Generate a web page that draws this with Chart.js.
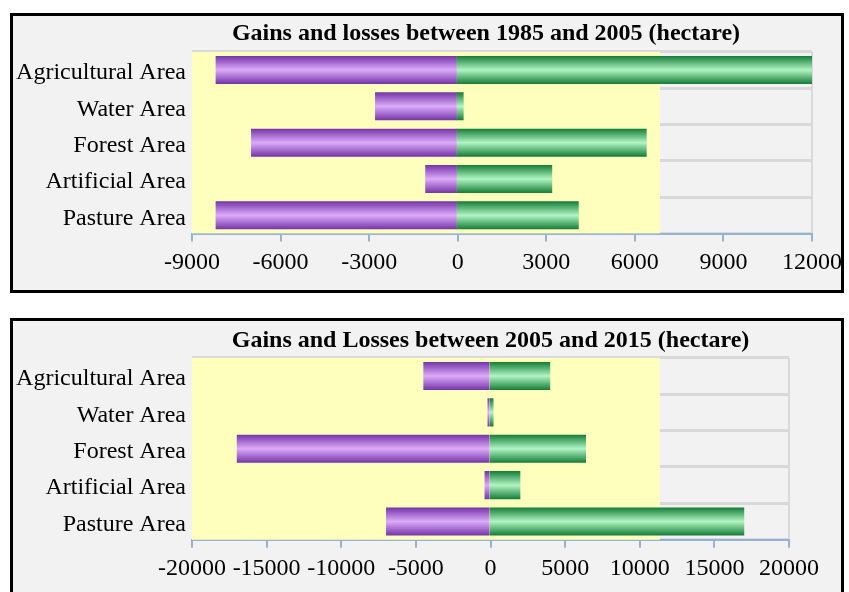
<!DOCTYPE html>
<html>
<head>
<meta charset="utf-8">
<title>Gains and losses</title>
<script src="https://cdn.jsdelivr.net/npm/chart.js@4.4.0/dist/chart.umd.min.js"></script>
<style>
  body { margin: 0; background: #ffffff; }
  .caja {
    position: absolute;
    left: 10px;
    width: 834px;
    height: 280px;
    border: 3px solid #000;
    box-sizing: border-box;
    background: #f2f2f2;
  }
  canvas { display: block; }
</style>
</head>
<body>
<div class="caja" style="top:13px"><canvas id="grafico1" width="828" height="274"></canvas></div>
<div class="caja" style="top:318px"><canvas id="grafico2" width="828" height="274"></canvas></div>

<script>
// Categorías (de arriba hacia abajo)
const categorias = ['Agricultural Area', 'Water Area', 'Forest Area', 'Artificial Area', 'Pasture Area'];

// Periodo 1985 - 2005
const titulo1 = 'Gains and losses between 1985 and 2005 (hectare)';
const perdidas1 = [-8200, -2800, -7000, -1100, -8200];
const ganancias1 = [12000, 200, 6400, 3200, 4100];
const ticksX1 = [-9000, -6000, -3000, 0, 3000, 6000, 9000, 12000];
const finAmarillo1 = 6840;

// Periodo 2005 - 2015
const titulo2 = 'Gains and Losses between 2005 and 2015 (hectare)';
const perdidas2 = [-4500, -200, -17000, -400, -7000];
const ganancias2 = [4000, 200, 6400, 2000, 17000];
const ticksX2 = [-20000, -15000, -10000, -5000, 0, 5000, 10000, 15000, 20000];
const finAmarillo2 = 11320;

const FUENTE = "'Liberation Serif', 'Times New Roman', serif";
const AZUL = '#95b3d7';
const GRIS = '#d9d9d9';
const GROSOR = 0.77;

// Degradado vertical (oscuro - claro - oscuro) para cada barra
function degradado(oscuro, claro) {
    return function(ctx) {
        const chart = ctx.chart;
        const escalaY = chart.scales.y;
        if (!chart.chartArea || !escalaY || ctx.dataIndex === undefined) return oscuro;
        const y = escalaY.getPixelForValue(ctx.dataIndex);
        const medio = escalaY.height / categorias.length * GROSOR / 2;
        const g = chart.ctx.createLinearGradient(0, y - medio, 0, y + medio);
        g.addColorStop(0, oscuro);
        g.addColorStop(0.5, claro);
        g.addColorStop(1, oscuro);
        return g;
    };
}

// Plugin para desplazar el título horizontalmente
const moverTitulo = {
    id: 'moverTitulo',
    afterLayout(chart, args, opts) {
        if (chart.titleBlock && opts.dx) {
            chart.titleBlock.left += opts.dx;
            chart.titleBlock.right += opts.dx;
        }
    }
};

function crearGrafico(id, titulo, perdidas, ganancias, ticksX, finAmarillo, ajustes) {
    const min = ticksX[0];
    const max = ticksX[ticksX.length - 1];
    const ctx = document.getElementById(id).getContext('2d');

    return new Chart(ctx, {
        type: 'bar',
        data: {
            labels: categorias,
            datasets: [
                {
                    label: 'Losses',
                    data: perdidas,
                    backgroundColor: degradado('#7434a8', '#dcabf9'),
                    grouped: false,
                    barPercentage: GROSOR,
                    categoryPercentage: 1,
                    order: 1
                },
                {
                    label: 'Gains',
                    data: ganancias,
                    backgroundColor: degradado('#157c37', '#b0f5c3'),
                    grouped: false,
                    barPercentage: GROSOR,
                    categoryPercentage: 1,
                    // la barra verde empieza un poco bajo la morada para evitar la costura en 0
                    base: -50,
                    order: 2
                },
                {
                    label: 'fondo',
                    data: categorias.map(() => [min, finAmarillo]),
                    backgroundColor: '#ffffbd',
                    grouped: false,
                    barPercentage: 1,
                    categoryPercentage: 1,
                    order: 5
                }
            ]
        },
        options: {
            indexAxis: 'y',
            responsive: false,
            devicePixelRatio: 1,
            animation: false,
            layout: {
                padding: { left: 0, right: ajustes.derecha, top: 0, bottom: ajustes.abajo }
            },
            plugins: {
                legend: { display: false },
                tooltip: { enabled: false },
                title: {
                    display: true,
                    text: titulo,
                    fullSize: false,
                    color: '#000',
                    font: { family: FUENTE, size: 24, weight: 'bold' },
                    padding: ajustes.tituloPad
                },
                moverTitulo: { dx: ajustes.dx }
            },
            scales: {
                x: {
                    min: min,
                    max: max,
                    z: 2,
                    afterBuildTicks: axis => {
                        axis.ticks = ticksX.map(v => ({ value: v }));
                    },
                    afterFit: axis => {
                        axis.paddingLeft = 0;
                        axis.paddingRight = 0;
                    },
                    ticks: {
                        autoSkip: false,
                        maxRotation: 0,
                        color: '#000',
                        padding: ajustes.ticksPad,
                        font: { family: FUENTE, size: 24 },
                        callback: v => String(v)
                    },
                    grid: {
                        drawOnChartArea: true,
                        color: c => (c.index === ticksX.length - 1 ? GRIS : 'rgba(0,0,0,0)'),
                        lineWidth: 2,
                        tickColor: AZUL,
                        tickLength: 8,
                        tickWidth: 2
                    },
                    border: { color: AZUL, width: 2 }
                },
                y: {
                    z: 1,
                    afterFit: axis => {
                        axis.width = 179;
                    },
                    ticks: {
                        color: '#000',
                        padding: 6,
                        labelOffset: 3,
                        font: { family: FUENTE, size: 24 }
                    },
                    grid: {
                        offset: true,
                        color: GRIS,
                        lineWidth: 3,
                        drawTicks: false
                    },
                    border: { display: false }
                }
            }
        },
        plugins: [moverTitulo]
    });
}

crearGrafico('grafico1', titulo1, perdidas1, ganancias1, ticksX1, finAmarillo1, {
    derecha: 29, abajo: 5.7, tituloPad: { top: 3, bottom: 4 }, ticksPad: 7, dx: -16
});
crearGrafico('grafico2', titulo2, perdidas2, ganancias2, ticksX2, finAmarillo2, {
    derecha: 52, abajo: 4.5, tituloPad: { top: 5, bottom: 3 }, ticksPad: 7, dx: 0
});
</script>
</body>
</html>
